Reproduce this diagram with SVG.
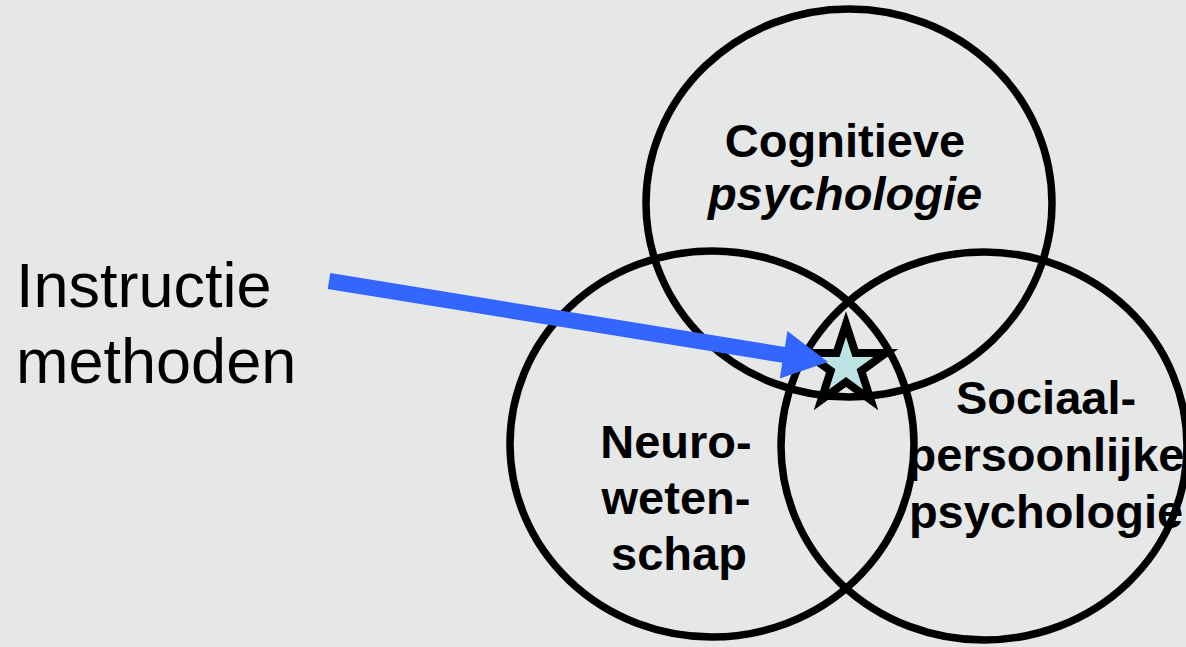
<svg xmlns="http://www.w3.org/2000/svg" width="1186" height="647" viewBox="0 0 1186 647">
  <style>
    .ring { fill: none; stroke: #000; stroke-width: 7.5; }
    .lbl { font-family: "Liberation Sans", Arial, sans-serif; font-weight: bold; font-size: 47px; fill: #000; text-anchor: middle; }
    .big { font-family: "Liberation Sans", Arial, sans-serif; font-size: 63px; fill: #000; }
  </style>
  <rect x="0" y="0" width="1186" height="647" fill="#e6e8e7"/>
  <g id="cognitieve">
    <ellipse class="ring" cx="849" cy="203" rx="203" ry="194"/>
  </g>
  <g id="neuro">
    <ellipse class="ring" cx="712" cy="444" rx="202" ry="193"/>
  </g>
  <g id="sociaal">
    <ellipse class="ring" cx="984" cy="446" rx="203" ry="194"/>
  </g>
  <g id="labels">
    <text class="lbl" x="845" y="157">Cognitieve</text>
    <text class="lbl" x="845" y="210" font-style="italic">psychologie</text>
    <text class="lbl" x="676" y="458">Neuro-</text>
    <text class="lbl" x="676" y="514">weten-</text>
    <text class="lbl" x="679" y="570">schap</text>
    <text class="lbl" x="1046" y="414">Sociaal-</text>
    <text class="lbl" x="1046" y="471">persoonlijke</text>
    <text class="lbl" x="1046" y="528">psychologie</text>
  </g>
  <g id="star">
    <polygon points="846,324 855.4,353 885.9,353 861.3,370.9 870.7,399.9 846,382 821.3,399.9 830.7,370.9 806.1,353 836.6,353" fill="#bde2e4" stroke="#000" stroke-width="8" stroke-linejoin="miter" stroke-miterlimit="10"/>
  </g>
  <g id="instructie">
    <text class="big" x="16" y="307">Instructie</text>
    <text class="big" x="16" y="383">methoden</text>
  </g>
  <g id="connectors">
    <polygon points="330.3,273.1 784.9,346.9 787.4,331.1 828,362 779.8,378.5 782.3,362.7 327.7,288.9" fill="#3366ff"/>
  </g>
</svg>
